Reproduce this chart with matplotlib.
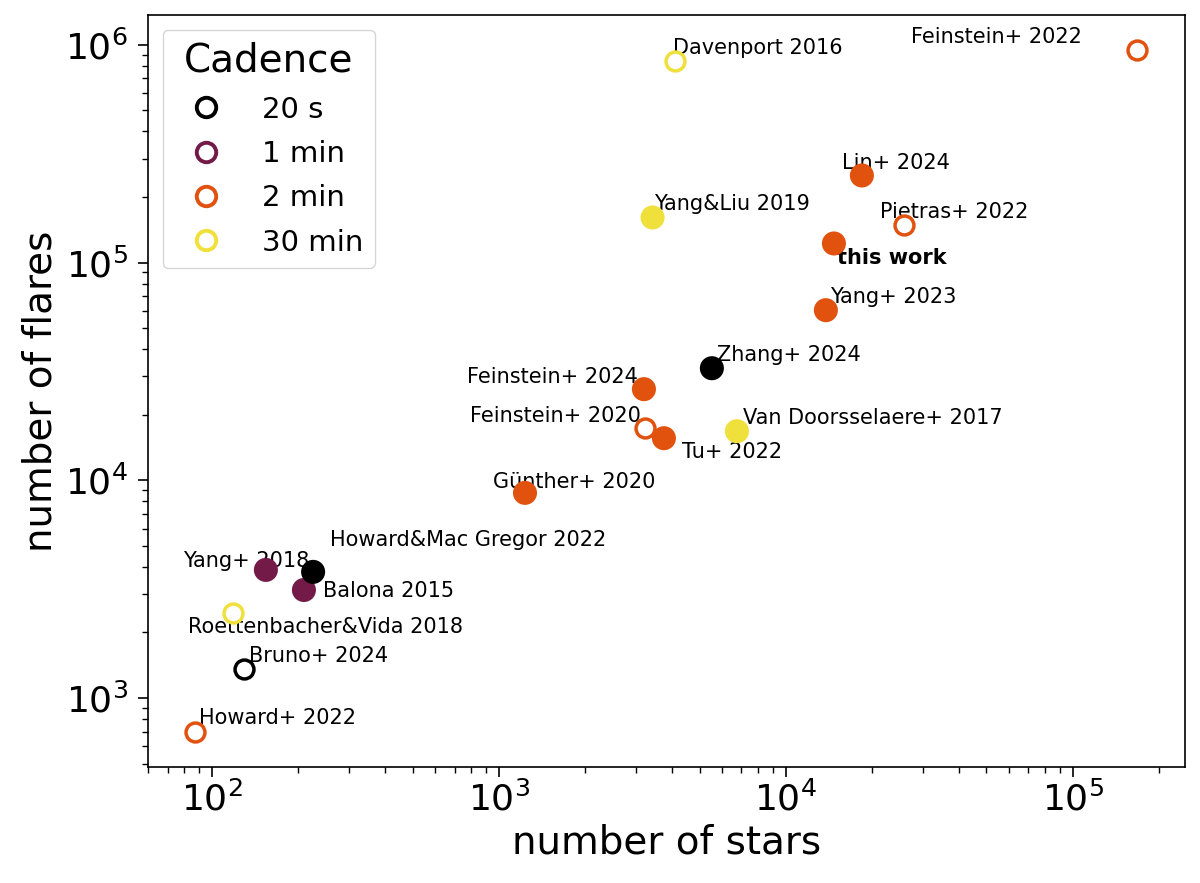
import matplotlib
matplotlib.use("Agg")
import matplotlib.pyplot as plt
from matplotlib.lines import Line2D

# ---- data ----
names = ["Howard+ 2022", "Bruno+ 2024", "Roettenbacher&Vida 2018", "Yang+ 2018",
         "Balona 2015", "Howard&Mac Gregor 2022", "Günther+ 2020", "Feinstein+ 2020",
         "Tu+ 2022", "Feinstein+ 2024", "Van Doorsselaere+ 2017", "Zhang+ 2024",
         "Yang+ 2023", "this work", "Pietras+ 2022", "Lin+ 2024", "Yang&Liu 2019",
         "Davenport 2016", "Feinstein+ 2022"]
n_stars = [87, 129, 118, 154, 209, 225, 1232, 3226, 3757, 3200, 6750, 5520,
           13780, 14700, 25770, 18400, 3430, 4100, 167000]
n_flares = [700, 1360, 2455, 3875, 3133, 3795, 8750, 17330, 15600, 26200, 16800, 32700,
            60400, 122300, 148000, 251000, 161000, 844000, 949000]
cadence = ["2 min", "20 s", "30 min", "1 min", "1 min", "20 s", "2 min", "2 min",
           "2 min", "2 min", "30 min", "20 s", "2 min", "2 min", "2 min", "2 min",
           "30 min", "30 min", "2 min"]
filled = [False, False, False, True, True, True, True, False, True, True, True, True,
          True, True, False, True, True, False, False]
cadence_levels = ["20 s", "1 min", "2 min", "30 min"]

# ---- styles / layout ----
colors = {"20 s": "#000000", "1 min": "#731a48", "2 min": "#e1520f", "30 min": "#f0e03c"}
# label offsets in pixels (dx, dy up) and horizontal alignment
offsets = {
    "Howard+ 2022": (4, 8, "left"),
    "Bruno+ 2024": (5, 7, "left"),
    "Roettenbacher&Vida 2018": (-45, -20, "left"),
    "Yang+ 2018": (-83, 3, "left"),
    "Balona 2015": (19, -7, "left"),
    "Howard&Mac Gregor 2022": (17, 26, "left"),
    "Günther+ 2020": (-32, 5, "left"),
    "Feinstein+ 2020": (-4, 6, "right"),
    "Tu+ 2022": (18, -20, "left"),
    "Feinstein+ 2024": (-6, 6, "right"),
    "Van Doorsselaere+ 2017": (6, 7, "left"),
    "Zhang+ 2024": (5, 7, "left"),
    "Yang+ 2023": (4, 7, "left"),
    "this work": (3, -21, "left"),
    "Pietras+ 2022": (-24, 7, "left"),
    "Lin+ 2024": (-20, 6, "left"),
    "Yang&Liu 2019": (1, 7, "left"),
    "Davenport 2016": (-2, 7, "left"),
    "Feinstein+ 2022": (-55, 7, "right"),
}

DPI = 100
px = 72.0 / DPI
fig = plt.figure(figsize=(12, 8.83), dpi=DPI)
ax = fig.add_axes([148 / 1200, 1 - 767 / 883, (1185 - 148) / 1200, (767 - 15) / 883])
ax.set_xscale("log")
ax.set_yscale("log")

s_fill = 300
s_open = 185
for i, name in enumerate(names):
    c = colors[cadence[i]]
    if filled[i]:
        ax.scatter(n_stars[i], n_flares[i], s=s_fill, color=c, edgecolors="none", zorder=4)
    else:
        ax.scatter(n_stars[i], n_flares[i], s=s_open, facecolors="white", edgecolors=c,
                   linewidths=2.5, zorder=4)
    dx, dy, ha = offsets[name]
    ax.annotate(name, (n_stars[i], n_flares[i]), xytext=(dx * px, dy * px),
                textcoords="offset points", ha=ha, va="baseline", fontsize=15,
                fontweight="bold" if name == "this work" else "normal", zorder=3)

ax.set_xlim(59.8, 2.46e5)
ax.set_ylim(482, 1.37e6)
ax.set_xlabel("number of stars", fontsize=28)
ax.set_ylabel("number of flares", fontsize=28)
ax.tick_params(axis="both", which="major", labelsize=26, length=7, width=1.2)
ax.tick_params(axis="y", which="major", pad=7.5)
ax.tick_params(axis="both", which="minor", length=4, width=1)
for sp in ax.spines.values():
    sp.set_linewidth(1.2)

handles = [Line2D([], [], marker="o", linestyle="none", markersize=14,
                  markerfacecolor="white", markeredgecolor=colors[c], markeredgewidth=2.8)
           for c in cadence_levels]
leg = ax.legend(handles, cadence_levels, title="Cadence", loc="upper left", fontsize=21,
                title_fontsize=28, borderaxespad=0.5, handletextpad=0.85,
                handlelength=2.15, labelspacing=0.56)

fig.savefig("out.png", dpi=DPI)
